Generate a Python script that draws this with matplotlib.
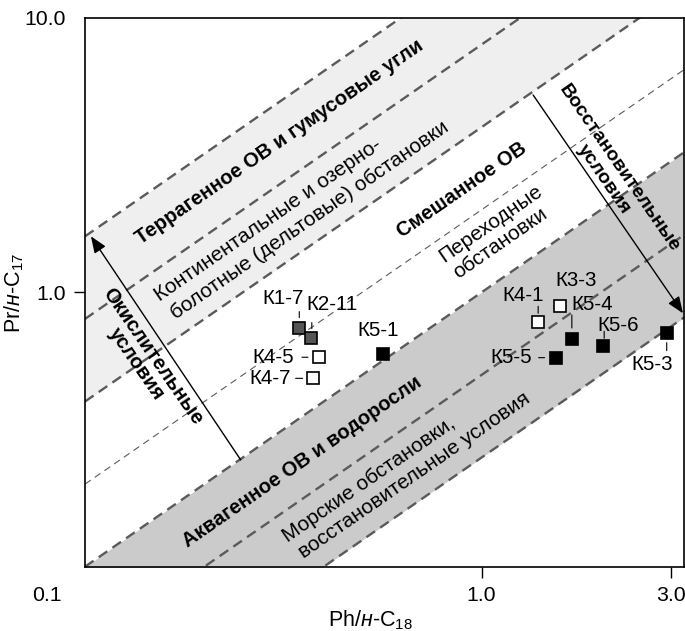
import numpy as np
import matplotlib.pyplot as plt
from matplotlib.transforms import offset_copy

plt.rcParams['font.family'] = ['Liberation Sans', 'DejaVu Sans']
plt.rcParams['mathtext.fontset'] = 'custom'
plt.rcParams['mathtext.rm'] = 'Liberation Sans'
plt.rcParams['mathtext.it'] = 'Liberation Sans:italic'
plt.rcParams['lines.scale_dashes'] = False

# данные по образцам
samples = ['К1-7', 'К2-11', 'К4-5', 'К4-7', 'К5-1', 'К4-1', 'К3-3', 'К5-4', 'К5-5', 'К5-6', 'К5-3']
ph_c18 = [0.347, 0.371, 0.389, 0.375, 0.564, 1.389, 1.578, 1.689, 1.537, 2.026, 2.93]
pr_c17 = [0.744, 0.684, 0.580, 0.486, 0.596, 0.778, 0.890, 0.676, 0.578, 0.636, 0.713]
group = ['dark', 'dark', 'open', 'open', 'black', 'open', 'open', 'black', 'black', 'black', 'black']

# границы (Pr/н-C17) / (Ph/н-C18)
bold_ratios = [16, 8, 4, 1, 0.5, 0.25]
thin_ratios = [2]
terr_band = (4, 16)
aqua_band = (0.25, 1)

xlim = (0.1, 3.24)
ylim = (0.1, 10)

styles = {
    'dark': dict(facecolor='#555555'),
    'open': dict(facecolor='white'),
    'black': dict(facecolor='black'),
}

# подписи точек: смещение текста и засечки (пиксели, y вниз)
label_off = {
    'К1-7': (-16, -29), 'К2-11': (21, -33), 'К4-5': (-46, 0), 'К4-7': (-43, 0),
    'К5-1': (-5, -24), 'К4-1': (-15, -27), 'К3-3': (16, -26), 'К5-4': (20, -34),
    'К5-5': (-44, 0), 'К5-6': (15, -21), 'К5-3': (-15, 32),
}
leaders = {
    'К1-7': (0, -16, 0, -10), 'К2-11': (1, -15, 1, -9), 'К4-5': (-17, 0, -11, 0),
    'К4-7': (-17, 0, -10, 0), 'К4-1': (0, -16, 0, -9), 'К5-4': (0, -24, 0, -11),
    'К5-6': (1, -15, 1, -8), 'К5-5': (-17, 0, -11, 0), 'К5-3': (0, 10, 0, 18),
}

fig = plt.figure(figsize=(6.85, 6.31), dpi=100)
ax = fig.add_axes([0.1241, 0.1019, 0.8745, 0.8696])
ax.set_xscale('log')
ax.set_yscale('log')
ax.set_xlim(*xlim)
ax.set_ylim(*ylim)

# угол наклона линий на экране
bb = ax.get_position()
w_px = bb.width * fig.get_figwidth()
h_px = bb.height * fig.get_figheight()
ang = np.degrees(np.arctan((h_px / 2) / (w_px / np.log10(xlim[1] / xlim[0]))))

xx = np.array(xlim)
ax.fill_between(xx, terr_band[0] * xx, terr_band[1] * xx, color='#efefef', lw=0, zorder=0)
ax.fill_between(xx, aqua_band[0] * xx, aqua_band[1] * xx, color='#cbcbcb', lw=0, zorder=0)
for k in bold_ratios:
    ax.plot(xx, k * xx, color='#5a5a5a', lw=1.7, dashes=(7.5, 4.5), zorder=1)
for k in thin_ratios:
    ax.plot(xx, k * xx, color='#5a5a5a', lw=0.8, dashes=(5, 3.5), zorder=1)

# стрелки
arrow = dict(arrowstyle='-|>,head_length=0.5,head_width=0.2', color='k', lw=1,
             mutation_scale=20, shrinkA=0, shrinkB=0)
ax.annotate('', xy=(0.1035, 1.6), xytext=(0.247, 0.245), arrowprops=arrow, zorder=2)
ax.annotate('', xy=(3.22, 0.839), xytext=(1.349, 5.24), arrowprops=arrow, zorder=2)

# точки
for name, x, y, g in zip(samples, ph_c18, pr_c17, group):
    ax.plot(x, y, marker='s', ms=9, mec='black', mew=1.2, ls='none',
            mfc=styles[g]['facecolor'], zorder=4)
    dx, dy = label_off[name]
    ax.annotate(name, xy=(x, y), xytext=(dx, -dy), textcoords='offset pixels',
                ha='center', va='center', fontsize=14.8, zorder=5)
    if name in leaders:
        x1, y1, x2, y2 = leaders[name]
        tr = offset_copy(ax.transData, fig=fig, x=x1, y=-y1, units='dots')
        ax.annotate('', xy=(x, y), xycoords=tr, xytext=(x2 - x1, -(y2 - y1)),
                    textcoords='offset pixels',
                    arrowprops=dict(arrowstyle='-', shrinkA=0, shrinkB=0, lw=0.8, color='k'))

# подписи областей
txt = dict(ha='center', va='center', rotation_mode='anchor', zorder=3)
ax.text(0.309, 3.52, 'Террагенное ОВ и гумусовые угли', rotation=ang, fontsize=14.6,
        fontweight='bold', **txt)
ax.text(0.290, 1.836, 'Континентальные и озерно-', rotation=ang, fontsize=15, **txt)
ax.text(0.369, 1.836, 'болотные (дельтовые) обстановки', rotation=ang, fontsize=15, **txt)
ax.text(0.890, 2.36, 'Смешанное ОВ', rotation=ang, fontsize=14.6, fontweight='bold', **txt)
ax.text(1.054, 1.772, 'Переходные', rotation=ang, fontsize=15, **txt)
ax.text(1.112, 1.51, 'обстановки', rotation=ang, fontsize=15, **txt)
ax.text(0.353, 0.2415, 'Аквагенное ОВ и водоросли', rotation=ang, fontsize=14.6,
        fontweight='bold', **txt)
ax.text(0.5205, 0.2072, 'Морские обстановки,', rotation=ang, fontsize=15, **txt)
ax.text(0.676, 0.216, 'восстановительные условия', rotation=ang, fontsize=15, **txt)
ax.text(0.148, 0.583, 'Окислительные', rotation=ang - 90, fontsize=14.6, fontweight='bold', **txt)
ax.text(0.1345, 0.548, 'условия', rotation=ang - 90, fontsize=14.6, fontweight='bold', **txt)
ax.text(2.225, 2.84, 'Восстановительные', rotation=ang - 90, fontsize=14, fontweight='bold', **txt)
ax.text(2.036, 2.585, 'условия', rotation=ang - 90, fontsize=14, fontweight='bold', **txt)

# оси
ax.minorticks_off()
ax.set_xticks([1, 3])
ax.set_xticklabels(['1.0', '3.0'])
ax.set_yticks([1, 10])
ax.set_yticklabels(['1.0', '10.0'])
ax.tick_params(direction='out', length=8, width=1, labelsize=15.3, pad=6)
ax.yaxis.get_major_ticks()[1].tick1line.set_visible(False)
for s in ax.spines.values():
    s.set_linewidth(1.2)
ax.text(-0.063, -0.052, '0.1', transform=ax.transAxes, ha='center', va='center', fontsize=15.3)
ax.text(0.477, -0.097, r'Ph/$\mathit{н}$-C$_{18}$', transform=ax.transAxes,
        ha='center', va='center', fontsize=15.5)
ax.text(-0.1185, 0.499, r'Pr/$\mathit{н}$-C$_{17}$', transform=ax.transAxes,
        ha='center', va='center', rotation=90, fontsize=15.5)

plt.savefig('out.png', dpi=100)
